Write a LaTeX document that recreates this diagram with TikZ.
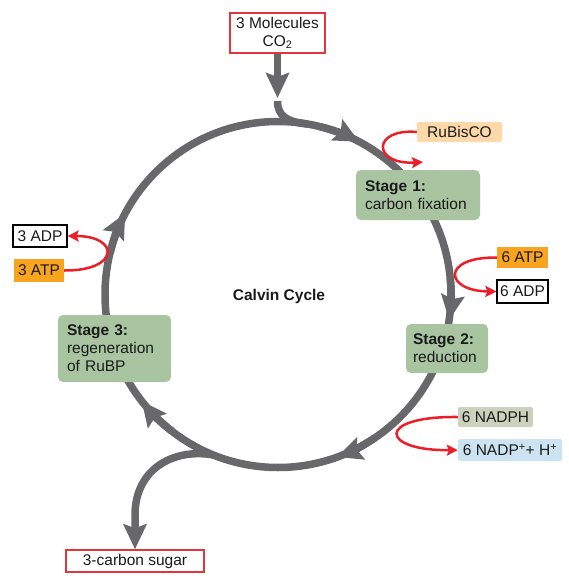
\documentclass[tikz,border=0pt]{standalone}
\usepackage{fontspec}
\setmainfont{Liberation Sans}
\usetikzlibrary{arrows.meta}
\definecolor{cycgray}{RGB}{104,104,106}
\definecolor{stagegreen}{RGB}{169,196,160}
\definecolor{boxred}{RGB}{228,52,62}
\definecolor{arrred}{RGB}{236,30,40}
\definecolor{peach}{RGB}{253,217,170}
\definecolor{atporange}{RGB}{248,164,30}
\definecolor{nadphcol}{RGB}{203,209,188}
\definecolor{nadpcol}{RGB}{204,228,242}
\definecolor{txt}{RGB}{26,26,26}
\tikzset{
  basefont/.style={font=\fontsize{15.5}{18}\selectfont, text=txt},
  redbox/.style={draw=boxred, line width=1.5pt, fill=white, inner sep=0pt, align=center},
  blackbox/.style={draw=black, line width=1.3pt, fill=white, inner sep=0pt},
  colbox/.style={fill=#1, rounded corners=2pt, inner sep=0pt},
  stagebox/.style={fill=stagegreen, rounded corners=5pt, align=left, inner ysep=0pt},
  cyc/.style={draw=cycgray, line width=7.5pt},
  bigtip/.style={-{Stealth[length=25pt,width=23pt,inset=4pt]}},
  redarr/.style={draw=arrred, line width=2.5pt, -{Stealth[length=11pt,width=11pt,inset=2pt]}}
}
\begin{document}
\begin{tikzpicture}[x=1pt,y=-1pt,basefont]
\useasboundingbox (0,0) rectangle (569,576);
\coordinate (c) at (278,294.5);
% cycle
\draw[cyc] (c) circle[radius=173];
\foreach \a [evaluate=\a as \b using \a-14] in {-62,8.5,70,142,208}
  \draw[cyc,bigtip] (c) ++(\b:173) arc[start angle=\b, end angle=\a, radius=173];
% nodes
\node[redbox, minimum width=95pt, minimum height=40pt] (co2) at (277.5,33) {3 Molecules\\CO\textsubscript{2}};
\node[colbox=peach, minimum width=85pt, minimum height=20pt] (rub) at (459.5,132) {RuBisCO};
\node[stagebox, inner xsep=9pt, text width=106pt, minimum height=50pt] (s1) at (418,195) {\textbf{Stage 1:}\\carbon fixation};
\node[colbox=atporange, rounded corners=0pt, minimum width=51pt, minimum height=21pt] (atp6) at (522.5,257.5) {6 ATP};
\node[blackbox, minimum width=51pt, minimum height=23pt] (adp6) at (522.5,291.5) {6 ADP};
\node[stagebox, inner xsep=7pt, text width=68pt, minimum height=49pt] (s2) at (447,348.5) {\textbf{Stage 2:}\\reduction};
\node[colbox=nadphcol, minimum width=75pt, minimum height=20pt] (nadph) at (495.5,417) {6 NADPH};
\node[colbox=nadpcol, minimum width=104pt, minimum height=22pt] (nadp) at (510,450) {6 NADP\textsuperscript{+}+ H\textsuperscript{+}};
\node[stagebox, inner xsep=9pt, text width=95pt, minimum height=67pt] (s3) at (114.5,348.5) {\textbf{Stage 3:}\\regeneration\\of RuBP};
\node[blackbox, minimum width=54pt, minimum height=22pt] (adp3) at (40,236) {3 ADP};
\node[colbox=atporange, rounded corners=0pt, minimum width=50pt, minimum height=23pt] (atp3) at (39,270.5) {3 ATP};
\node[redbox, minimum width=138pt, minimum height=22pt] (sugar) at (135,561) {3-carbon sugar};
\node[font=\fontsize{15.5}{18}\selectfont\bfseries] (title) at (279,296) {Calvin Cycle};
% CO2 input
\coordinate (co2tip) at (277.5,98);
\coordinate (co2br) at (277.5,101);
\draw[cyc,bigtip] (co2.south) -- (co2tip);
\draw[cyc] (co2br) .. controls (277.5,116) and (287,122) .. (308,124.1);
% sugar output
\coordinate (brs) at (213.2,454.9);
\draw[cyc,bigtip] (brs) .. controls (172,448) and (135,470) .. (135,515) -- (sugar.north);
% red arrows
\coordinate (rubend) at (423,162);
\draw[redarr] (rub.west) .. controls (372,128) and (372,165) .. (rubend);
\draw[redarr] (atp3.east) .. controls (120,271) and (120,236) .. (adp3.east);
\draw[redarr] (atp6.west) .. controls (440,257) and (445,291) .. (adp6.west);
\draw[redarr] (nadph.west) .. controls (375,416) and (380,451) .. (nadp.west);
\end{tikzpicture}
\end{document}
